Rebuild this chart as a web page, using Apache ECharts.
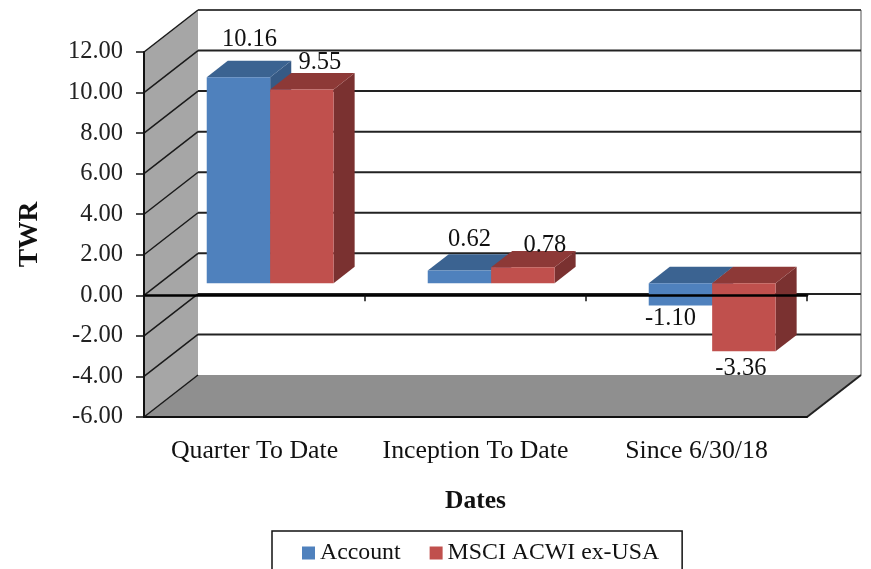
<!DOCTYPE html>
<html>
<head>
<meta charset="utf-8">
<style>html,body{margin:0;padding:0;background:#fff}#c{width:871px;height:569px;filter:blur(0.45px)}</style>
<script src="https://cdn.jsdelivr.net/npm/echarts@6/dist/echarts.min.js"></script>
</head>
<body>
<div id="c"></div>
<script>
const categories = ['Quarter To Date', 'Inception To Date', 'Since 6/30/18'];
const accountValues = [10.16, 0.62, -1.10];
const benchmarkValues = [9.55, 0.78, -3.36];
const yTicks = [-6, -4, -2, 0, 2, 4, 6, 8, 10, 12];

// Oblique projection of the Excel-style 3D box
const DEPTH_X = 54, DEPTH_Y = 42;
const BAR_FRONT = 0.29, BAR_BACK = 0.68, BAR_BAND_RATIO = 0.287;
const FONT = '"Liberation Serif","Times New Roman",serif';
const accountLabelOffsets = [[11, -38], [10, -31], [-10, 13]];
const benchmarkLabelOffsets = [[18, -27], [22, -22], [-3, 17]];
const palette = {
  account: {front: '#4f81bd', top: '#3b6391', side: '#365a85'},
  benchmark: {front: '#c0504d', top: '#8d3937', side: '#7a3130'}
};

const shift = (p, d) => [p[0] + d * DEPTH_X, p[1] - d * DEPTH_Y];
const poly = (points, fill, z2) => ({type: 'polygon', z2, shape: {points}, style: {fill, stroke: null}});
const seg = (a, b, stroke, lineWidth, z2) => ({
  type: 'line', z2, shape: {x1: a[0], y1: a[1], x2: b[0], y2: b[1]}, style: {stroke, lineWidth}
});

function renderWalls(params, api) {
  const cs = params.coordSys;
  const xl = cs.x, xr = cs.x + cs.width;
  const lo = yTicks[0], hi = yTicks[yTicks.length - 1];
  const yOf = v => api.coord([0, v])[1];
  const fl = [xl, yOf(lo)], fr = [xr, yOf(lo)];
  const tl = [xl, yOf(hi)];
  const kids = [
    poly([fl, tl, shift(tl, 1), shift(fl, 1)], '#a6a6a6', 1),
    poly([fl, fr, shift(fr, 1), shift(fl, 1)], '#8f8f8f', 1),
    seg(shift(fr, 1), [xr + DEPTH_X, yOf(hi) - DEPTH_Y], '#a8a8a8', 2, 2),
    seg(fr, shift(fr, 1), '#222', 2, 3)
  ];
  yTicks.forEach(v => {
    const p = [xl, yOf(v)];
    kids.push(seg(p, shift(p, 1), '#1a1a1a', 1.5, 3));
    if (v > lo) {
      kids.push(seg(shift(p, 1), [xr + DEPTH_X, yOf(v) - DEPTH_Y], v === hi ? '#444' : '#222', 2, 3));
    }
  });
  return {type: 'group', children: kids};
}

function barRenderer(col, slot, offsets) {
  return function (params, api) {
    const idx = params.dataIndex;
    const v = api.value(1);
    const c = api.coord([api.value(0), 0]);
    const base = api.coord([api.value(0), v]);
    const w = api.size([1, 0])[0] * BAR_BAND_RATIO;
    const x0 = c[0] + slot * w, x1 = x0 + w;
    const topY = Math.min(c[1], base[1]), botY = Math.max(c[1], base[1]);
    const F = p => shift(p, BAR_FRONT), B = p => shift(p, BAR_BACK);
    const tl = [x0, topY], tr = [x1, topY], bl = [x0, botY], br = [x1, botY];
    const off = offsets[idx];
    const anchor = v >= 0 ? F([(x0 + x1) / 2, topY]) : F([(x0 + x1) / 2, botY]);
    return {
      type: 'group',
      children: [
        poly([F(tr), B(tr), B(br), F(br)], col.side, 1),
        poly([F(tl), F(tr), B(tr), B(tl)], col.top, 2),
        poly([F(tl), F(tr), F(br), F(bl)], col.front, 3),
        {
          type: 'text', z2: 5,
          style: {
            x: anchor[0] + off[0], y: anchor[1] + off[1],
            text: v.toFixed(2), fill: '#111',
            font: '24.5px ' + FONT, align: 'center', verticalAlign: 'middle'
          }
        }
      ]
    };
  };
}

const chart = echarts.init(document.getElementById('c'), null, {renderer: 'canvas'});
chart.setOption({
  animation: false,
  backgroundColor: '#fff',
  grid: {left: 144, right: 64, top: 52, bottom: 152},
  legend: {
    left: 272, top: 531, orient: 'horizontal',
    data: ['Account', 'MSCI ACWI ex-USA'],
    icon: 'rect', itemWidth: 13, itemHeight: 13, itemGap: 29,
    padding: [10, 23, 9, 30],
    borderColor: '#111', borderWidth: 1.5,
    textStyle: {fontFamily: FONT, fontSize: 23.8, color: '#111'}
  },
  xAxis: [
    {
      type: 'category', data: categories, position: 'bottom', z: 6,
      axisLine: {onZero: false, lineStyle: {color: '#111', width: 2}},
      axisTick: {show: false},
      axisLabel: {color: '#111', fontFamily: FONT, fontSize: 25.8, margin: 21, interval: 0, hideOverlap: false},
      name: 'Dates', nameLocation: 'middle', nameGap: 71,
      nameTextStyle: {color: '#111', fontFamily: FONT, fontSize: 25.5, fontWeight: 'bold'}
    },
    {
      type: 'category', data: categories, position: 'bottom', z: 6,
      axisLine: {onZero: true, lineStyle: {color: '#000', width: 2.5}},
      axisTick: {show: true, inside: false, length: 6, lineStyle: {color: '#111', width: 1.5}},
      axisLabel: {show: false}
    }
  ],
  yAxis: {
    type: 'value', min: -6, max: 12, interval: 2, z: 6,
    splitLine: {show: false},
    axisLine: {show: true, lineStyle: {color: '#111', width: 2}},
    axisTick: {show: true, length: 8, lineStyle: {color: '#111', width: 1.5}},
    axisLabel: {color: '#222', fontFamily: FONT, fontSize: 24.5, margin: 21, formatter: v => v.toFixed(2), padding: [2, 0, 0, 0]},
    name: 'TWR', nameLocation: 'middle', nameGap: 100, nameRotate: 90,
    nameTextStyle: {color: '#111', fontFamily: FONT, fontSize: 27.5, fontWeight: 'bold'}
  },
  series: [
    {type: 'custom', name: 'walls', silent: true, z: 1, renderItem: renderWalls, data: [[0, 0]], encode: {x: 0, y: 1}},
    {
      type: 'custom', name: 'Account', z: 3, itemStyle: {color: palette.account.front},
      renderItem: barRenderer(palette.account, -1, accountLabelOffsets),
      encode: {x: 0, y: 1}, data: accountValues.map((v, i) => [i, v])
    },
    {
      type: 'custom', name: 'MSCI ACWI ex-USA', z: 4, itemStyle: {color: palette.benchmark.front},
      renderItem: barRenderer(palette.benchmark, 0, benchmarkLabelOffsets),
      encode: {x: 0, y: 1}, data: benchmarkValues.map((v, i) => [i, v])
    }
  ]
});
</script>
</body>
</html>
